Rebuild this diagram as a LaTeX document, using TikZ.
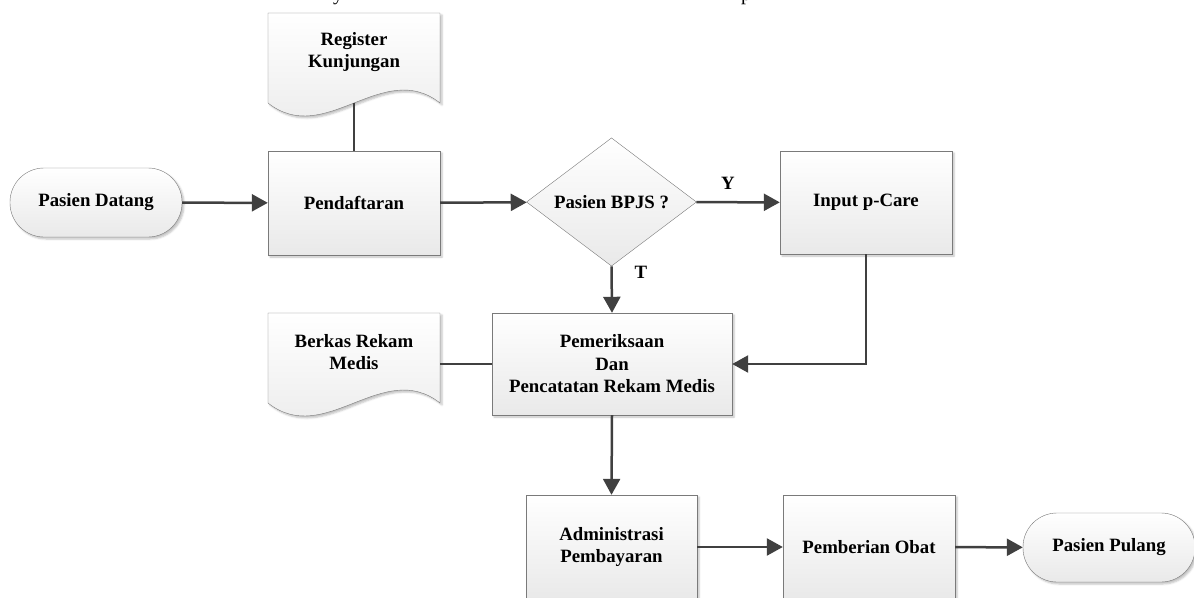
\documentclass[tikz,border=0pt]{standalone}
\usepackage{fontspec}
\setmainfont{Liberation Serif}
\usetikzlibrary{arrows.meta,shadows.blur,shapes.geometric}
\definecolor{flowLine}{HTML}{404040}
\definecolor{flowEdge}{HTML}{7A7A7A}
\definecolor{flowShade}{HTML}{E9E9E9}
\newcommand{\flowfont}{\bfseries\fontsize{18.8}{22.5}\selectfont}

\begin{document}
\begin{tikzpicture}[
  x=1pt,y=-1pt,
  >=Stealth,
  terminal/.style={rounded corners=34pt,draw=flowEdge,top color=white,bottom color=flowShade,minimum width=172pt,minimum height=69pt,inner sep=0pt,font=\flowfont,blur shadow={shadow xshift=2pt,shadow yshift=-2pt,shadow opacity=25}},
  process/.style={draw=flowEdge,top color=white,bottom color=flowShade,minimum width=172pt,minimum height=104pt,inner sep=0pt,align=center,font=\flowfont,blur shadow={shadow xshift=2pt,shadow yshift=-2pt,shadow opacity=25}},
  decision/.style={diamond,draw=flowEdge,top color=white,bottom color=flowShade,minimum width=170pt,minimum height=102pt,inner sep=0pt,font=\flowfont},
  docshape/.style={draw=flowEdge,top color=white,bottom color=flowShade,blur shadow={shadow xshift=2pt,shadow yshift=-2pt,shadow opacity=25}},
  doctext/.style={align=center,inner sep=0pt,font=\flowfont},
  link/.style={-{Triangle[length=16pt,width=17pt]},line width=2.5pt,draw=flowLine},
  plainlink/.style={line width=2.5pt,draw=flowLine},
  label/.style={inner sep=1pt,font=\flowfont}
]
\clip (0,0) rectangle (1194,597);

% sisa teks dari baris di atas gambar
\node[anchor=base,inner sep=0pt,font=\fontsize{20}{24}\selectfont] (topy) at (338,0) {y};
\node[anchor=base west,inner sep=0pt,font=\fontsize{20}{24}\selectfont] (topp) at (741,1) {p};

% dokumen
\draw[docshape] (268,13) -- (440,13) -- (440,103) .. controls (383,58) and (325,148) .. (268,103) -- cycle;
\node[doctext] (reg) at (354,52) {Register\\Kunjungan};
\coordinate (regwave) at (354,103);

\draw[docshape] (268,313) -- (440,313) -- (440,403) .. controls (383,358) and (325,448) .. (268,403) -- cycle;
\node[doctext] (berkas) at (354,352) {Berkas Rekam\\Medis};
\coordinate (berkasedge) at (440,364);

% proses
\node[terminal] (datang) at (96,202.5) {Pasien Datang};
\node[process] (daftar) at (354,203) {Pendaftaran};
\node[decision] (bpjs) at (611.5,202) {Pasien BPJS ?};
\node[process,minimum height=103pt] (pcare) at (866,202.5) {Input p-Care};
\node[process,minimum width=240pt,minimum height=102pt] (periksa) at (612,364) {Pemeriksaan\\Dan\\Pencatatan Rekam Medis};
\node[process,minimum width=171pt] (admin) at (611.5,547) {Administrasi\\Pembayaran};
\node[process] (obat) at (869,547) {Pemberian Obat};
\node[terminal] (pulang) at (1109,547.5) {Pasien Pulang};

% alur
\draw[link] (datang) -- (daftar);
\draw[plainlink] (regwave) -- (daftar.north);
\draw[link] (daftar) -- (bpjs);
\draw[link] (bpjs) -- (pcare);
\node[label] (ya) at (728,183) {Y};
\draw[link] (bpjs.south) -- (periksa.north);
\node[label] (tidak) at (641,272) {T};
\draw[link] (pcare.south) |- (periksa.east);
\draw[plainlink] (berkasedge) -- (periksa.west);
\draw[link] (periksa.south) -- (admin.north);
\draw[link] (admin) -- (obat);
\draw[link] (obat) -- (pulang);
\end{tikzpicture}
\end{document}
